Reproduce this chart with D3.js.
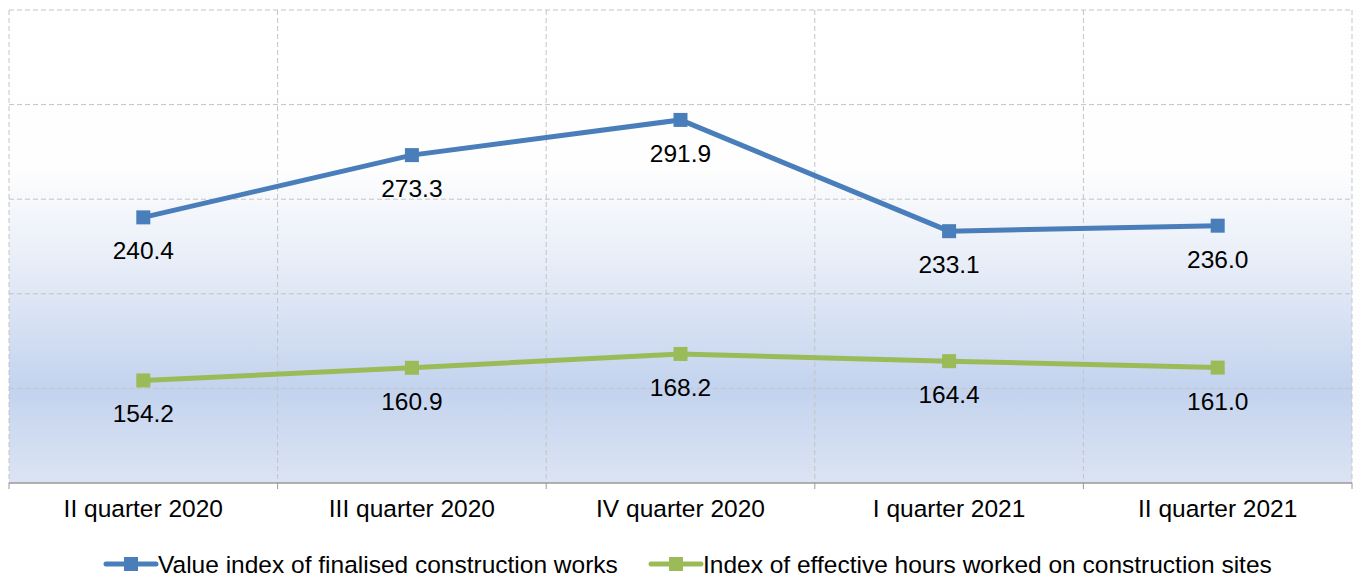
<!DOCTYPE html>
<html>
<head>
<meta charset="utf-8">
<script src="https://cdn.jsdelivr.net/npm/d3@7"></script>
<style>
  body { margin: 0; background: #fff; }
  svg text { font-family: "Liberation Sans", Arial, sans-serif; fill: #000; }
</style>
</head>
<body>
<svg id="chart" width="1358" height="578"></svg>
<script>
// categories and series
const quarters = ["II quarter 2020", "III quarter 2020", "IV quarter 2020", "I quarter 2021", "II quarter 2021"];
const valueIndex = [240.4, 273.3, 291.9, 233.1, 236.0];
const hoursIndex = [154.2, 160.9, 168.2, 164.4, 161.0];
const seriesNames = ["Value index of finalised construction works", "Index of effective hours worked on construction sites"];
const yTicks = [100, 150, 200, 250, 300, 350];

const svg = d3.select("svg#chart");
const margin = {left: 9, right: 1352, top: 10, bottom: 483};

const x = d3.scaleBand()
    .domain(quarters)
    .range([margin.left, margin.right]);

const y = d3.scaleLinear()
    .domain([100, 350])
    .range([margin.bottom, margin.top]);

// background gradient of the plot area
const grad = svg.append("defs").append("linearGradient")
    .attr("id", "bg")
    .attr("x1", 0).attr("y1", 0).attr("x2", 0).attr("y2", 1);
[[0, "#ffffff"], [0.33, "#fefefe"], [0.55, "#e6ecf7"], [0.8, "#c3d3ee"], [1, "#dce4f3"]]
    .forEach(s => grad.append("stop").attr("offset", s[0]).attr("stop-color", s[1]));

svg.append("rect")
    .attr("x", margin.left)
    .attr("y", margin.top)
    .attr("width", margin.right - margin.left)
    .attr("height", margin.bottom - margin.top)
    .attr("fill", "url(#bg)");

// horizontal gridlines
svg.append("g")
    .selectAll("line")
    .data(yTicks.slice(1))
    .enter().append("line")
    .attr("x1", margin.left).attr("x2", margin.right)
    .attr("y1", d => y(d)).attr("y2", d => y(d))
    .attr("stroke", "#c4c4c4")
    .attr("stroke-dasharray", "5,3");

// vertical gridlines at category edges
const edges = quarters.map(q => x(q)).concat([margin.right]);
svg.append("g")
    .selectAll("line")
    .data(edges)
    .enter().append("line")
    .attr("x1", d => d).attr("x2", d => d)
    .attr("y1", margin.top).attr("y2", margin.bottom)
    .attr("stroke", "#c4c4c4")
    .attr("stroke-dasharray", "5,3");

// x axis
const xAxis = svg.append("g")
    .attr("transform", `translate(0,${margin.bottom})`);
xAxis.append("line")
    .attr("x1", margin.left).attr("x2", margin.right)
    .attr("stroke", "#9a9a9a").attr("stroke-width", 1.5);
xAxis.selectAll("line.tick")
    .data(edges)
    .enter().append("line")
    .attr("class", "tick")
    .attr("x1", d => d).attr("x2", d => d)
    .attr("y1", 0).attr("y2", 6)
    .attr("stroke", "#9a9a9a");
xAxis.selectAll("text")
    .data(quarters)
    .enter().append("text")
    .attr("x", d => x(d) + x.bandwidth() / 2)
    .attr("y", 34)
    .attr("text-anchor", "middle")
    .style("font-size", "24.5px")
    .text(d => d);

// lines
const colors = ["#4a7ebb", "#9bbb59"];
const line = d3.line()
    .x((d, i) => x(quarters[i]) + x.bandwidth() / 2)
    .y(d => y(d));

[valueIndex, hoursIndex].forEach((series, k) => {
    const g = svg.append("g");
    g.append("path")
        .datum(series)
        .attr("d", line)
        .attr("fill", "none")
        .attr("stroke", colors[k])
        .attr("stroke-width", 5);
    g.selectAll("rect")
        .data(series)
        .enter().append("rect")
        .attr("x", (d, i) => x(quarters[i]) + x.bandwidth() / 2 - 7)
        .attr("y", d => y(d) - 7)
        .attr("width", 14).attr("height", 14)
        .attr("fill", colors[k]);
    g.selectAll("text")
        .data(series)
        .enter().append("text")
        .attr("x", (d, i) => x(quarters[i]) + x.bandwidth() / 2)
        .attr("y", d => y(d) + 42)
        .attr("text-anchor", "middle")
        .style("font-size", "24.5px")
        .text(d => d.toFixed(1));
});

// legend
const legendX = [106, 651];
const legend = svg.append("g");
seriesNames.forEach((name, k) => {
    const lg = legend.append("g").attr("transform", `translate(${legendX[k]},564)`);
    lg.append("line")
        .attr("x1", 0).attr("x2", 50)
        .attr("stroke", colors[k]).attr("stroke-width", 5)
        .attr("stroke-linecap", "round");
    lg.append("rect")
        .attr("x", 18).attr("y", -7)
        .attr("width", 14).attr("height", 14)
        .attr("fill", colors[k]);
    lg.append("text")
        .attr("x", 52).attr("y", 9)
        .style("font-size", "24.5px")
        .text(name);
});
</script>
</body>
</html>
